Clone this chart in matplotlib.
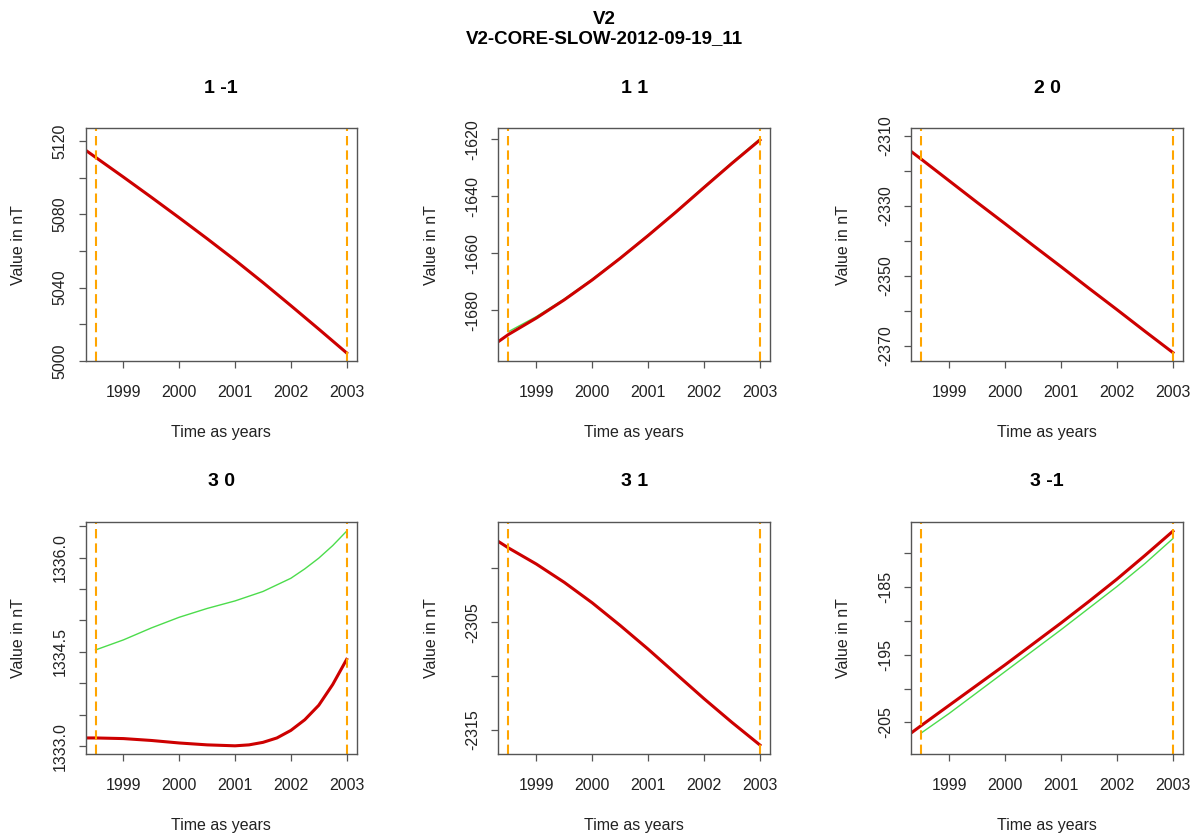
import numpy as np
import matplotlib
matplotlib.use("Agg")
import matplotlib.pyplot as plt

plt.rcParams['font.family'] = ['Liberation Sans', 'DejaVu Sans']

# time axis (years); red series starts at the left plot edge, green at the first marker
t_red = [1998.32, 1998.5, 1999, 1999.5, 2000, 2000.5, 2001, 2001.5, 2002, 2002.5, 2003]
t_green = [1998.5, 1999, 1999.5, 2000, 2000.5, 2001, 2001.5, 2002, 2002.5, 2003]
t_30 = [1998.32, 1998.5, 1999, 1999.5, 2000, 2000.5, 2001, 2001.25, 2001.5, 2001.75, 2002,
        2002.25, 2002.5, 2002.75, 2003]
t_30g = [1998.5, 1999, 1999.5, 2000, 2000.5, 2001, 2001.5, 2002, 2002.25, 2002.5, 2002.75, 2003]
markers = [1998.5, 2003]

titles = ['1 -1', '1 1', '2 0', '3 0', '3 1', '3 -1']

red_1m1 = [5115.0, 5111.1, 5100.3, 5089.3, 5078.1, 5066.7, 5055.0, 5042.8, 5030.2, 5017.4, 5004.4]
green_1m1 = [5111.1, 5100.3, 5089.3, 5078.1, 5066.7, 5055.0, 5042.8, 5030.2, 5017.4, 5004.4]

red_11 = [-1691.1, -1688.6, -1682.8, -1676.4, -1669.4, -1661.8, -1653.8, -1645.5, -1636.9, -1628.4, -1620.2]
green_11 = [-1687.6, -1682.3, -1676.1, -1669.1, -1661.6, -1653.6, -1645.3, -1636.6, -1628.1, -1619.8]

red_20 = [-2314.4, -2316.6, -2322.8, -2329.0, -2335.1, -2341.3, -2347.4, -2353.6, -2359.7, -2365.9, -2372.0]
green_20 = [-2316.6, -2322.8, -2329.0, -2335.1, -2341.3, -2347.4, -2353.6, -2359.7, -2365.9, -2372.0]

red_30 = [1333.13, 1333.13, 1333.12, 1333.09, 1333.05, 1333.02, 1333.005, 1333.02, 1333.06, 1333.13,
          1333.25, 1333.42, 1333.65, 1333.98, 1334.38]
green_30 = [1334.53, 1334.69, 1334.88, 1335.05, 1335.19, 1335.31, 1335.46, 1335.67, 1335.82, 1335.99,
            1336.19, 1336.42]

red_31 = [-2297.5, -2298.1, -2299.6, -2301.3, -2303.2, -2305.3, -2307.5, -2309.8, -2312.1, -2314.3, -2316.4]
green_31 = [-2298.1, -2299.6, -2301.3, -2303.2, -2305.3, -2307.5, -2309.8, -2312.1, -2314.3, -2316.4]

red_3m1 = [-206.6, -205.5, -202.5, -199.5, -196.5, -193.4, -190.3, -187.1, -183.8, -180.3, -176.7]
green_3m1 = [-206.6, -203.7, -200.6, -197.5, -194.4, -191.3, -188.1, -184.9, -181.5, -177.8]

ylims = [(5000.0, 5126.9), (-1697.9, -1616.1), (-2374.4, -2307.8),
         (1332.87, 1336.57), (-2317.26, -2295.67), (-209.74, -175.3)]
yticks = [[5000, 5020, 5040, 5060, 5080, 5100, 5120],
          [-1680, -1660, -1640, -1620],
          [-2370, -2360, -2350, -2340, -2330, -2320, -2310],
          [1333.0, 1333.5, 1334.0, 1334.5, 1335.0, 1335.5, 1336.0, 1336.5],
          [-2315, -2310, -2305, -2300],
          [-205, -200, -195, -190, -185, -180]]
ylabels = [['5000', '', '5040', '', '5080', '', '5120'],
           ['-1680', '-1660', '-1640', '-1620'],
           ['-2370', '', '-2350', '', '-2330', '', '-2310'],
           ['1333.0', '', '', '1334.5', '', '', '1336.0', ''],
           ['-2315', '', '-2305', ''],
           ['-205', '', '-195', '', '-185', '']]
xticks = [1999, 2000, 2001, 2002, 2003]

series = [(t_red, red_1m1, t_green, green_1m1),
          (t_red, red_11, t_green, green_11),
          (t_red, red_20, t_green, green_20),
          (t_30, red_30, t_30g, green_30),
          (t_red, red_31, t_green, green_31),
          (t_red, red_3m1, t_green, green_3m1)]

W, H = 1199, 835
fig = plt.figure(figsize=(W / 100, H / 100), dpi=100)

cols = [(85.5, 356.7), (498.3, 770.0), (911.0, 1183.0)]
rows = [(128.3, 361.0), (521.7, 754.3)]
box_col = '#555555'

for i in range(6):
    r, c = divmod(i, 3)
    x0, x1 = cols[c]
    y0, y1 = rows[r]
    ax = fig.add_axes([x0 / W, 1 - y1 / H, (x1 - x0) / W, (y1 - y0) / H])
    tr, vr, tg, vg = series[i]
    ax.plot(tg, vg, color='#4cdc4c', lw=1.0)
    ax.plot(tr, vr, color='#cd0000', lw=2.2, solid_joinstyle='round')
    for m in markers:
        ax.axvline(m, color='#ffa500', lw=1.5, linestyle=(0, (4.5, 2.4)))
    ax.set_xlim(1998.32, 2003.18)
    ax.set_ylim(*ylims[i])
    ax.set_xticks(xticks)
    ax.set_xticklabels([str(x) for x in xticks])
    ax.set_yticks(yticks[i])
    ax.set_yticklabels(ylabels[i], rotation=90, va='center')
    for s in ax.spines.values():
        s.set_color(box_col)
        s.set_linewidth(1.0)
    ax.tick_params(direction='out', length=5, width=0.9, color=box_col,
                   labelsize=11.5, labelcolor='#222222')
    ax.tick_params(axis='x', pad=12)
    ax.tick_params(axis='y', pad=8)
    h = y1 - y0
    w = x1 - x0
    ax.set_xlabel('Time as years', fontsize=11.5, color='#222222')
    ax.xaxis.set_label_coords(0.5, -71 / h)
    ax.xaxis.label.set_va('center')
    ax.set_ylabel('Value in nT', fontsize=11.5, color='#222222')
    ax.yaxis.set_label_coords(-67 / w, 0.5)
    ax.yaxis.label.set_va('center')
    ax.set_title(titles[i], fontsize=14, fontweight='bold', y=1 + 40 / h, va='center', pad=0)

fig.text(604 / W, 1 - 19 / H, 'V2', ha='center', va='center', fontsize=13.5, fontweight='bold')
fig.text(604 / W, 1 - 39 / H, 'V2-CORE-SLOW-2012-09-19_11', ha='center', va='center',
         fontsize=13.5, fontweight='bold')

fig.savefig('out.png', dpi=100)
